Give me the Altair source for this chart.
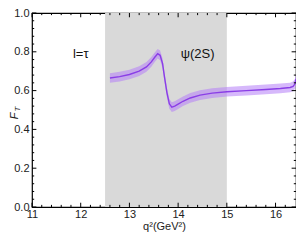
import altair as alt
import pandas as pd

# data
q2 = [12.6, 12.8, 13.0, 13.2, 13.35, 13.45, 13.52, 13.58, 13.63, 13.68, 13.72, 13.77, 13.82, 13.87, 13.93, 14.0, 14.1, 14.25, 14.45, 14.7, 15.0, 15.4, 15.8, 16.1, 16.3, 16.36, 16.4, 16.42]
ft = [0.665, 0.672, 0.683, 0.700, 0.722, 0.748, 0.772, 0.790, 0.782, 0.740, 0.670, 0.590, 0.532, 0.515, 0.520, 0.530, 0.545, 0.562, 0.577, 0.587, 0.594, 0.600, 0.606, 0.611, 0.616, 0.622, 0.635, 0.660]
ft_lo = [0.640, 0.647, 0.658, 0.675, 0.697, 0.723, 0.747, 0.765, 0.757, 0.715, 0.645, 0.565, 0.507, 0.490, 0.495, 0.505, 0.520, 0.537, 0.552, 0.562, 0.569, 0.575, 0.581, 0.586, 0.591, 0.597, 0.610, 0.635]
ft_hi = [0.690, 0.697, 0.708, 0.725, 0.747, 0.773, 0.797, 0.815, 0.807, 0.765, 0.695, 0.615, 0.557, 0.540, 0.545, 0.555, 0.570, 0.587, 0.602, 0.612, 0.619, 0.625, 0.631, 0.636, 0.641, 0.647, 0.660, 0.685]

region_start = [12.5]
region_end = [15.0]

x_major = [11, 12, 13, 14, 15, 16]
x_minor = [11.2, 11.4, 11.6, 11.8, 12.2, 12.4, 12.6, 12.8, 13.2, 13.4, 13.6, 13.8,
           14.2, 14.4, 14.6, 14.8, 15.2, 15.4, 15.6, 15.8, 16.2]
y_major = [0.0, 0.2, 0.4, 0.6, 0.8, 1.0]
y_minor = [0.04, 0.08, 0.12, 0.16, 0.24, 0.28, 0.32, 0.36, 0.44, 0.48, 0.52, 0.56,
           0.64, 0.68, 0.72, 0.76, 0.84, 0.88, 0.92, 0.96]

labels_text = ["l=τ", "ψ(2S)"]
labels_x = [12.0, 14.4]
labels_y = [0.79, 0.79]

XMIN, XMAX = 11.0, 16.42
FONT = "Liberation Sans"

xs = alt.Scale(domain=[XMIN, XMAX], nice=False, zero=False)
ys = alt.Scale(domain=[0, 1], nice=False)

AX = alt.Axis(values=x_major, ticks=False, domain=False, grid=False,
              labelFont=FONT, labelFontSize=11, labelColor="#222",
              labelPadding=1, labelOverlap=False, labelFlush=False,
              title="q²(GeV²)", titleFont=FONT,
              titleFontSize=11, titleFontWeight="normal",
              titleColor="#222", titlePadding=1, format="d")
AY = alt.Axis(values=y_major, ticks=False, domain=False, grid=False,
              labelFont=FONT, labelFontSize=11, labelColor="#222",
              labelPadding=3, labelOverlap=False, labelFlush=False,
              title=None, format=".1f")

curve = pd.DataFrame({"q2": q2, "ft": ft, "lo": ft_lo, "hi": ft_hi})
region = pd.DataFrame({"a": region_start, "b": region_end})

shade = alt.Chart(region).mark_rect(color="#d9d9d9").encode(
    x=alt.X("a:Q", scale=xs, axis=AX), x2="b:Q",
    y=alt.Y(datum=0, scale=ys, axis=AY), y2=alt.Y2(datum=1),
)

band = alt.Chart(curve).mark_area(color="#b57df7", opacity=0.55).encode(
    x=alt.X("q2:Q", scale=xs, axis=AX), y=alt.Y("lo:Q", scale=ys, axis=AY), y2="hi:Q")

line = alt.Chart(curve).mark_line(color="#8a3ee6", strokeWidth=1.4).encode(
    x=alt.X("q2:Q", scale=xs, axis=AX), y=alt.Y("ft:Q", scale=ys, axis=AY))

lab = pd.DataFrame({"t": labels_text, "x": labels_x, "y": labels_y})
texts = alt.Chart(lab).mark_text(font=FONT, fontSize=13, color="#111").encode(
    x=alt.X("x:Q", scale=xs, axis=AX), y=alt.Y("y:Q", scale=ys, axis=AY), text="t:N")

def xticks(vals, y0, y1):
    d = pd.DataFrame({"v": vals})
    return alt.Chart(d).mark_rule(color="black", strokeWidth=1).encode(
        x=alt.X("v:Q", scale=xs, axis=AX),
        y=alt.Y(datum=y0, scale=ys, axis=AY), y2=alt.Y2(datum=y1))

def yticks(vals, x0, x1):
    d = pd.DataFrame({"v": vals})
    return alt.Chart(d).mark_rule(color="black", strokeWidth=1).encode(
        y=alt.Y("v:Q", scale=ys, axis=AY),
        x=alt.X(datum=x0, scale=xs, axis=AX), x2=alt.X2(datum=x1))

ticks = [
    xticks(x_major, 0, 0.022), xticks(x_minor, 0, 0.011),
    xticks(x_major, 1, 0.978), xticks(x_minor, 1, 0.989),
    yticks(y_major, XMIN, XMIN + 0.09), yticks(y_minor, XMIN, XMIN + 0.045),
    yticks(y_major, XMAX, XMAX - 0.09), yticks(y_minor, XMAX, XMAX - 0.045),
]

ftitle = alt.Chart(pd.DataFrame({"t": ["F"]})).mark_text(
    font=FONT, fontSize=11, fontStyle="italic", angle=270, baseline="middle",
    color="#222").encode(text="t:N", x=alt.value(-17), y=alt.value(103))
ttitle = alt.Chart(pd.DataFrame({"t": ["T"]})).mark_text(
    font=FONT, fontSize=8, fontStyle="italic", angle=270, baseline="middle",
    color="#222").encode(text="t:N", x=alt.value(-14), y=alt.value(96))

chart = alt.layer(shade, band, line, texts, *ticks, ftitle, ttitle).properties(
    width=264, height=194,
    autosize=alt.AutoSizeParams(type="none"),
    padding={"left": 24, "top": 5, "right": 0, "bottom": 25},
).configure_view(stroke="black", strokeWidth=1.2)

chart.save("out.html", embed_options={"renderer": "svg", "actions": False})
